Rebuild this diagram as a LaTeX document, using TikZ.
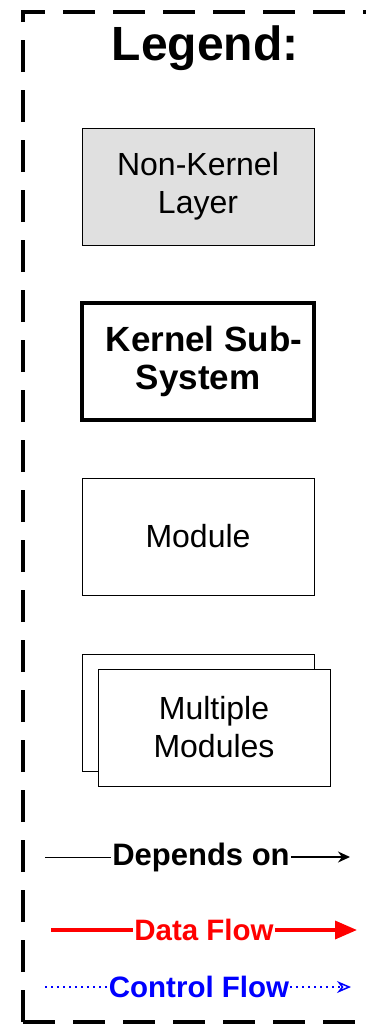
\documentclass[tikz,border=0pt]{standalone}
\usepackage{fontspec}
\setmainfont{Liberation Sans}
\usetikzlibrary{positioning, arrows.meta}
\tikzstyle{layer} = [rectangle, draw=black, line width=1pt, fill=black!12, text centered, align=center, minimum width=232pt, minimum height=117pt, font=\fontsize{32}{38}\selectfont]
\tikzstyle{subsystem} = [rectangle, draw=black, line width=4pt, text centered, align=center, minimum width=232pt, minimum height=117pt, font=\bfseries\fontsize{35}{38}\selectfont]
\tikzstyle{module} = [rectangle, draw=black, line width=1pt, fill=white, text centered, align=center, minimum width=232pt, minimum height=117pt, font=\fontsize{32}{38}\selectfont]
\tikzstyle{flowlabel} = [inner sep=1pt, font=\bfseries\fontsize{29.5}{30}\selectfont]
\tikzstyle{depends} = [line width=1.5pt, -{Stealth[length=12pt, width=11pt]}]
\tikzstyle{dataflow} = [red, line width=3.5pt, -{Triangle[length=22pt, width=18pt]}]
\tikzstyle{dotline} = [blue, line width=1.5pt, dash pattern=on 1.5pt off 4.5pt]
\tikzstyle{controlflow} = [dotline, -{Stealth[open, length=14pt, width=12pt, sep=0pt]}]

\begin{document}
\begin{tikzpicture}[x=1pt, y=-1pt]
			\useasboundingbox (0,0) rectangle (366,1026);
			% Frame, its right side lies outside the picture
			\begin{scope}
				\clip (0,0) rectangle (366,1026);
				\draw [line width=3.5pt, dash pattern=on 32pt off 18pt] (23,1022) -- (23,12) -- (420,12);
				\draw [line width=3.5pt, dash pattern=on 32pt off 18pt] (23,1022) -- (420,1022);
			\end{scope}
			\node (title) at (205,48) [font=\bfseries\fontsize{48}{50}\selectfont] {Legend:};

			% Boxes
			\node (layer) at (198,186.5) [layer] {Non-Kernel\\Layer};
			\node (kernel) [subsystem, below=55.5pt of layer] {\hspace*{12pt}Kernel Sub-\\System};
			\node (module) [module, below=55.5pt of kernel] {Module};
			\node (multiback) [module, below=58pt of module] {};
			\node (multifront) at ([shift={(16,15)}]multiback) [module] {Multiple\\Modules};

			% Arrows
			\coordinate (depstart) at (45,857);
			\coordinate (depend) at (350,857);
			\node (dep) at (201,857) [flowlabel, font=\bfseries\fontsize{31}{32}\selectfont] {Depends on};
			\draw [line width=1pt] (depstart) -- (dep);
			\draw [depends] (dep) -- (depend);

			\coordinate (datastart) at (51,930);
			\coordinate (dataend) at (357,930);
			\node (data) at (204,930) [flowlabel, red] {Data Flow};
			\draw [red, line width=3.5pt] (datastart) -- (data);
			\draw [dataflow] (data) -- (dataend);

			\coordinate (ctrlstart) at (45,987);
			\coordinate (ctrlend) at (351,987);
			\node (ctrl) at (199,987) [flowlabel, blue] {Control Flow};
			\draw [dotline] (ctrlstart) -- (ctrl);
			\draw [controlflow] (ctrl) -- (ctrlend);
		\end{tikzpicture}
\end{document}
